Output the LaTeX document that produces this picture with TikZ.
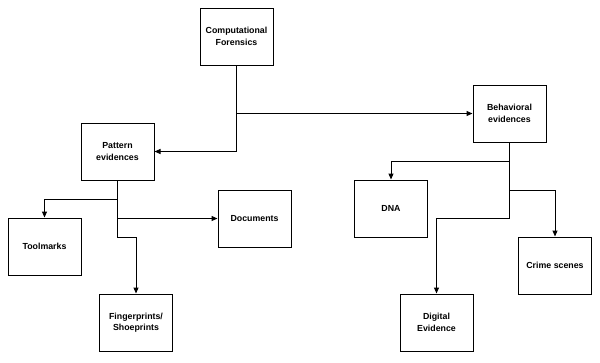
\documentclass[tikz,border=0pt]{standalone}
\usepackage{fontspec}
\setmainfont{Liberation Sans}
\usetikzlibrary{arrows.meta}
\begin{document}
\begin{tikzpicture}[x=1pt,y=-1pt,
  box/.style={draw, line width=1pt, minimum width=73pt, minimum height=57pt, inner sep=0pt,
    align=center, font=\bfseries\fontsize{8.8}{11.5}\selectfont},
  conn/.style={line width=1pt},
  arr/.style={line width=1pt, -{Triangle[length=6pt,width=5pt]}}]
\useasboundingbox (0,0) rectangle (600,362);
\node[box] (cf)  at (236.5,36.5)  {Computational\\Forensics};
\node[box] (pe)  at (117.5,151.5) {Pattern\\evidences};
\node[box] (be)  at (509.5,113.5) {Behavioral\\evidences};
\node[box] (tm)  at (44.5,246.5)  {Toolmarks};
\node[box] (doc) at (254.5,218.5) {Documents};
\node[box] (fp)  at (136,322.5)   {Fingerprints/\\Shoeprints};
\node[box] (dna) at (391,208.5)   {DNA};
\node[box] (cs)  at (555,265.5)   {Crime scenes};
\node[box] (de)  at (436.5,322.5) {Digital\\Evidence};
% top level
\coordinate (j0) at (cf.south |- be.west);
\draw[arr] (cf.south) |- (pe.east);
\draw[arr] (j0) -- (be.west);
% pattern branch
\coordinate (p1) at (117.5,199);
\coordinate (p3) at (117.5,237);
\draw[arr] (pe.south) -- (p3) -| (fp.north);
\draw[arr] (p1) -| (tm.north);
\draw[arr] (pe.south |- doc.west) -- (doc.west);
% behavioral branch
\coordinate (b1) at (509.5,161);
\coordinate (b2) at (509.5,190);
\coordinate (b3) at (509.5,218);
\draw[arr] (be.south) -- (b3) -| (de.north);
\draw[arr] (b1) -| (dna.north);
\draw[arr] (b2) -| (cs.north);
\end{tikzpicture}
\end{document}
